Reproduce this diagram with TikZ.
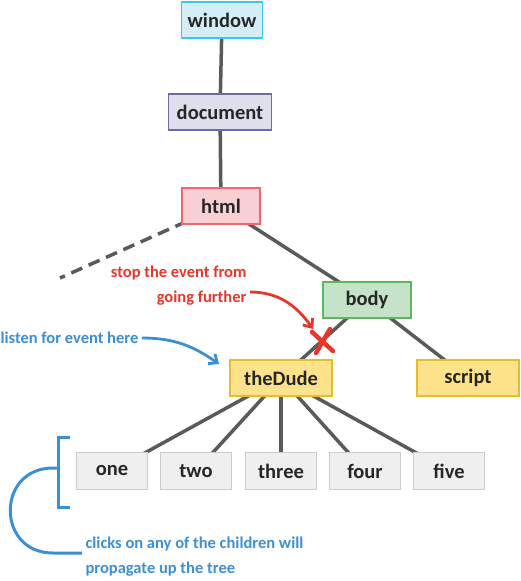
\documentclass[tikz,border=0pt]{standalone}
\usepackage{fontspec}
\setmainfont{Carlito}
\usepackage{tikz}
\usetikzlibrary{arrows.meta,calc}
\usetikzlibrary{positioning,backgrounds}
\definecolor{edgegray}{HTML}{5A5A5A}
\definecolor{noteblue}{HTML}{3D8FD4}
\definecolor{notered}{HTML}{E8362A}
\definecolor{winfill}{HTML}{D4EEF8}\definecolor{winline}{HTML}{3CC6EE}
\definecolor{docfill}{HTML}{DEDEED}\definecolor{docline}{HTML}{6C6CA8}
\definecolor{htmlfill}{HTML}{F8D0D3}\definecolor{htmlline}{HTML}{EF6870}
\definecolor{bodyfill}{HTML}{C5E3C9}\definecolor{bodyline}{HTML}{5CB860}
\definecolor{dudefill}{HTML}{FEE38A}\definecolor{dudeline}{HTML}{E9BB32}
\definecolor{kidfill}{HTML}{EFEFEF}\definecolor{kidline}{HTML}{CCCCCC}
\tikzset{
    %Define style for boxes
    elem/.style={
        rectangle,
        draw, line width=1.6pt,
        align=center,
        text=black!85,
        minimum height=36pt,
        font=\fontsize{20.5}{24}\selectfont\bfseries,
    },
    winbox/.style={elem, fill=winfill, draw=winline, minimum width=81pt},
    docbox/.style={elem, fill=docfill, draw=docline, minimum width=103pt},
    htmlbox/.style={elem, fill=htmlfill, draw=htmlline, minimum width=78pt},
    bodybox/.style={elem, fill=bodyfill, draw=bodyline, minimum width=88pt},
    dudebox/.style={elem, fill=dudefill, draw=dudeline, minimum width=102pt},
    kidbox/.style={elem, fill=kidfill, draw=kidline, minimum width=71pt, minimum height=37pt},
    edge/.style={
        draw=edgegray,
        line width=3.5pt,
    },
    note/.style={
        draw = none,
        font = \fontsize{16.5}{25}\selectfont\bfseries,
    },
    pointer/.style={
        line width=2.8pt,
        -{Straight Barb[length=7pt,width=12pt,line width=2.8pt]},
    },
}
\begin{document}
\begin{tikzpicture}[x=1pt,y=-1pt]
		\useasboundingbox (0,0) rectangle (520,581);

		% the tree
		\node[winbox] (window) at (222,20) {window};
		\node[docbox] (document) at (220,112) {document};
		\node[htmlbox] (html) at (221,206) {html};
		\node[bodybox] (body) at (367,300) {body};
		\node[dudebox] (theDude) at (281,378) {theDude};
		\node[dudebox] (script) at (468,378) {script};

		\node[kidbox] (one) at (112,471) {one};
		\node[kidbox] (two) at (196,471) {two};
		\node[kidbox] (three) at (281,471) {three};
		\node[kidbox] (four) at (365,471) {four};
		\node[kidbox] (five) at (449,471) {five};

		\coordinate (elsewhere) at (60,278);

		\begin{scope}[on background layer]
		\draw[edge] (window.center) -- (document.center) -- (html.center) -- (body.center);
		\draw[edge,dash pattern=on 12pt off 7pt] (html.center) -- (elsewhere);
		\draw[edge] (body.center) -- (theDude.center);
		\draw[edge] (body.center) -- (script.center);
		\foreach \kid in {one,two,three,four,five}
			\draw[edge] (theDude.center) -- (\kid.center);
		\end{scope}

		% stop sign
		\coordinate (stop) at (322,341);
		\draw[notered,line width=4.5pt,line cap=round]
			($(stop)+(-10,-9)$) -- ($(stop)+(11,10)$)
			($(stop)+(8,-12)$) -- ($(stop)+(-6,12)$);

		% notes
		\node[note,text=notered,align=right,anchor=east] (stopnote) at (250,286)
			{stop the event from\\going further};
		\draw[pointer,notered] (stopnote.east |- 0,292) to[out=0,in=125] ($(stop)+(-9,-12)$);

		\node[note,text=noteblue,anchor=west] (listennote) at (-3,338) {listen for event here};
		\draw[pointer,noteblue] (listennote.east) to[out=0,in=145] (219,364);

		\node[note,text=noteblue,align=left,anchor=west] (bubblenote) at (82,557)
			{clicks on any of the children will\\propagate up the tree};

		\coordinate (brtop) at (70,437);
		\coordinate (brbot) at (70,507);
		\draw[noteblue,line width=3pt] (brtop) -- (58,437) -- (58,507) -- (brbot);
		\draw[noteblue,line width=3pt] (58,468) -- (53,468)
			.. controls (-4,468) and (-4,553) .. (53,553) -- (bubblenote.west |- 0,553);
	\end{tikzpicture}
\end{document}
